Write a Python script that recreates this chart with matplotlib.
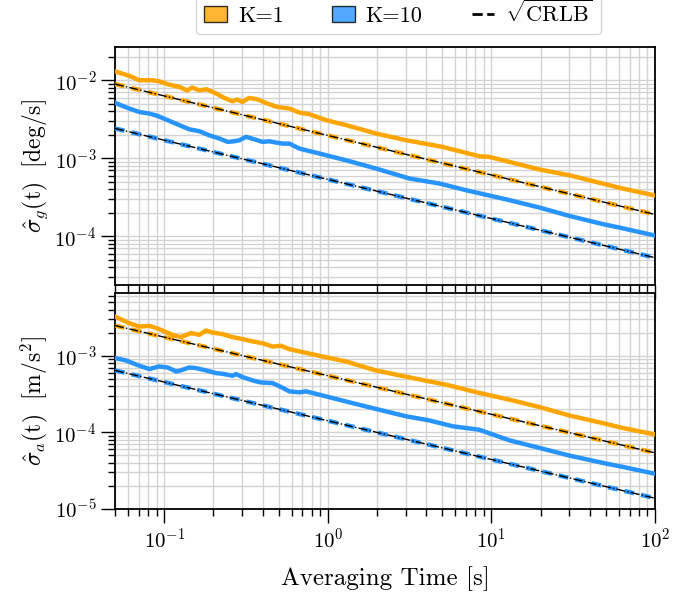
import matplotlib
matplotlib.use('Agg')
import matplotlib.pyplot as plt
from matplotlib.patches import Patch
from matplotlib.lines import Line2D

plt.rcParams['font.family'] = 'serif'
plt.rcParams['font.serif'] = ['cmr10', 'DejaVu Serif']
plt.rcParams['mathtext.fontset'] = 'cm'
plt.rcParams['axes.formatter.use_mathtext'] = True

# averaging times
tau_g1 = [0.05, 0.061, 0.0703, 0.0845, 0.093, 0.107, 0.124, 0.138, 0.148, 0.164, 0.181, 0.208,
          0.233, 0.261, 0.279, 0.300, 0.331, 0.371, 0.427, 0.491, 0.582, 0.670, 0.771, 0.98,
          1.30, 1.98, 3.02, 5.01, 8.45, 9.72, 12.9, 19.7, 30.0, 47.8, 63.3, 100]
sig_g1 = [1.30e-2, 1.14e-2, 1.0e-2, 1.0e-2, 9.7e-3, 8.8e-3, 8.2e-3, 7.4e-3, 8.06e-3, 7.4e-3, 7.67e-3, 6.75e-3,
          5.93e-3, 5.38e-3, 5.66e-3, 5.27e-3, 5.93e-3, 5.70e-3, 5.02e-3, 4.55e-3, 4.34e-3, 3.85e-3, 3.67e-3, 3.07e-3,
          2.65e-3, 2.07e-3, 1.70e-3, 1.40e-3, 1.06e-3, 1.04e-3, 8.97e-4, 7.17e-4, 6.05e-4, 4.74e-4, 4.09e-4, 3.33e-4]

tau_g10 = [0.05, 0.061, 0.0703, 0.081, 0.091, 0.105, 0.124, 0.142, 0.164, 0.188, 0.217, 0.244,
           0.268, 0.288, 0.316, 0.355, 0.399, 0.439, 0.482, 0.530, 0.582, 0.670, 0.887, 1.29,
           1.97, 3.15, 4.81, 7.00, 12.9, 19.7, 30.0, 48.0, 60.7, 100]
sig_g10 = [5.12e-3, 4.34e-3, 3.92e-3, 3.74e-3, 3.49e-3, 3.07e-3, 2.65e-3, 2.35e-3, 2.22e-3, 1.97e-3, 1.79e-3, 1.62e-3,
           1.65e-3, 1.70e-3, 1.88e-3, 1.75e-3, 1.62e-3, 1.65e-3, 1.59e-3, 1.54e-3, 1.54e-3, 1.33e-3, 1.15e-3, 9.42e-4,
           7.38e-4, 5.50e-4, 4.74e-4, 3.89e-4, 2.90e-4, 2.33e-4, 1.82e-4, 1.43e-4, 1.29e-4, 1.02e-4]

tau_a1 = [0.05, 0.061, 0.0703, 0.081, 0.093, 0.112, 0.126, 0.146, 0.164, 0.180, 0.197, 0.227,
          0.262, 0.301, 0.347, 0.399, 0.459, 0.517, 0.582, 0.670, 0.887, 1.29, 1.97, 3.30,
          5.29, 8.45, 12.9, 19.7, 30.0, 48.0, 63.5, 100]
sig_a1 = [3.25e-3, 2.67e-3, 2.41e-3, 2.46e-3, 2.23e-3, 1.88e-3, 1.75e-3, 1.98e-3, 1.88e-3, 2.14e-3, 2.01e-3, 1.92e-3,
          1.75e-3, 1.65e-3, 1.54e-3, 1.46e-3, 1.32e-3, 1.35e-3, 1.22e-3, 1.14e-3, 1.0e-3, 8.43e-4, 6.43e-4, 5.12e-4,
          4.19e-4, 3.27e-4, 2.67e-4, 2.14e-4, 1.66e-4, 1.32e-4, 1.14e-4, 9.4e-5]

tau_a10 = [0.05, 0.0583, 0.0703, 0.081, 0.093, 0.105, 0.118, 0.126, 0.142, 0.156, 0.180, 0.207,
           0.227, 0.262, 0.275, 0.301, 0.347, 0.390, 0.459, 0.517, 0.582, 0.670, 0.736, 0.975,
           1.29, 1.97, 3.01, 4.18, 5.80, 8.45, 12.9, 19.7, 30.0, 48.0, 63.5, 100]
sig_a10 = [9.33e-4, 8.69e-4, 7.41e-4, 6.71e-4, 7.25e-4, 7.03e-4, 6.24e-4, 6.43e-4, 7.03e-4, 6.91e-4, 6.43e-4, 5.94e-4,
           5.82e-4, 5.48e-4, 5.77e-4, 5.27e-4, 4.76e-4, 4.48e-4, 4.40e-4, 3.91e-4, 3.43e-4, 3.33e-4, 3.43e-4, 2.95e-4,
           2.53e-4, 2.02e-4, 1.62e-4, 1.43e-4, 1.20e-4, 1.08e-4, 7.86e-5, 6.26e-5, 4.97e-5, 3.99e-5, 3.54e-5, 2.88e-5]

# sqrt(CRLB) lines, end points
tau_crlb = [0.05, 100]
crlb_g1 = [8.94e-3, 1.9e-4]
crlb_g10 = [2.41e-3, 5.3e-5]
crlb_a1 = [2.48e-3, 5.4e-5]
crlb_a10 = [6.44e-4, 1.38e-5]

orange = '#FFA500'
blue = '#2894FF'

fig = plt.figure(figsize=(6.93, 5.98), dpi=100)
ax1 = fig.add_axes([0.166, 0.523, 0.779, 0.398])
ax2 = fig.add_axes([0.166, 0.149, 0.779, 0.361])

panels = [
    (ax1, tau_g1, sig_g1, tau_g10, sig_g10, crlb_g1, crlb_g10, (2.65e-2, 2.35e-5)),
    (ax2, tau_a1, sig_a1, tau_a10, sig_a10, crlb_a1, crlb_a10, (6.6e-3, 1e-5)),
]
for ax, t1, s1, t10, s10, c1, c10, (top, bot) in panels:
    ax.plot(t1, s1, color=orange, lw=3.2, zorder=3)
    ax.plot(t10, s10, color=blue, lw=3.2, zorder=3)
    for c, col in ((c1, orange), (c10, blue)):
        ax.plot(tau_crlb, c, color=col, lw=3.2, ls=(0, (2.2, 1.6)), zorder=3)
        ax.plot(tau_crlb, c, color='k', lw=1, ls='-.', zorder=4)
    ax.set_xscale('log')
    ax.set_yscale('log')
    ax.set_xlim(0.05, 100)
    ax.set_ylim(bot, top)
    ax.grid(True, which='both', color='#d3d3d3', lw=1)
    ax.set_axisbelow(True)
    for s in ax.spines.values():
        s.set_linewidth(1.3)
    ax.tick_params(which='major', length=10, width=1, labelsize=15)
    ax.tick_params(which='minor', length=5, width=1)

ax1.tick_params(axis='x', which='both', labelbottom=False)
ax1.set_ylabel(r'$\hat{\sigma}_g(\mathrm{t})\ \ [\mathrm{deg/s}]$', fontsize=17)
ax2.set_ylabel(r'$\hat{\sigma}_a(\mathrm{t})\ \ [\mathrm{m/s}^2]$', fontsize=17)
ax2.set_xlabel('Averaging Time [s]', fontsize=18, labelpad=10)
ax1.yaxis.set_label_coords(-0.12, 0.5)
ax2.yaxis.set_label_coords(-0.12, 0.5)

handles = [Patch(facecolor=orange, edgecolor='k', alpha=0.8, label='K=1'),
           Patch(facecolor=blue, edgecolor='k', alpha=0.8, label='K=10'),
           Line2D([], [], color='k', ls='--', lw=2, label=r'$\sqrt{\mathrm{CRLB}}$')]
fig.legend(handles=handles, loc='upper center', bbox_to_anchor=(0.575, 1.035), ncol=3,
           fontsize=16, frameon=True, handlelength=1.0, handletextpad=0.5, columnspacing=2.2)

fig.savefig('out.png', dpi=100)
